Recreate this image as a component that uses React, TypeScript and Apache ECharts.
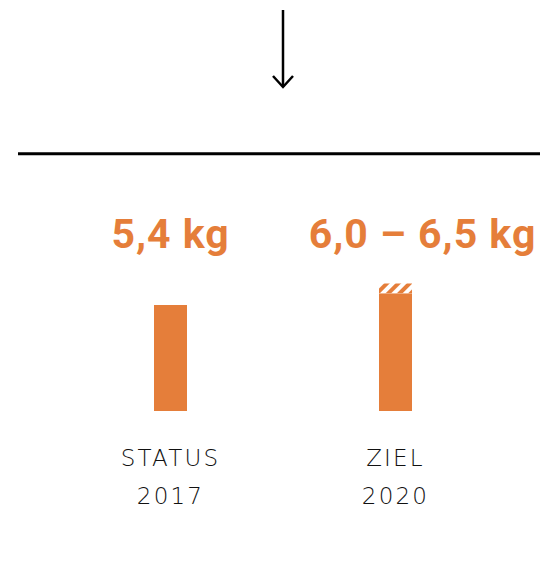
import React, { useEffect, useRef } from "react";
import * as echarts from "echarts";

const categories = ["STATUS\n2017", "ZIEL\n2020"];
const baseValues = [5.4, 6.0];
const rangeValues: (number | string)[] = ["-", 0.5];
const valueLabels = ["5,4 kg", "6,0 – 6,5 kg"];

const ORANGE = "#E57E3A";

export default function App() {
  const ref = useRef<HTMLDivElement>(null);
  useEffect(() => {
    document.body.style.margin = "0";
    const st = document.createElement("style");
    st.textContent =
      'text[style*="DejaVu"]{letter-spacing:2.2px;} text[style*="Roboto"]{letter-spacing:1px;}';
    document.head.appendChild(st);
    const chart = echarts.init(ref.current!, null, { renderer: "svg" });
    chart.setOption({
      animation: false,
      backgroundColor: "#ffffff",
      grid: { left: 58, right: 32, top: 254, bottom: 155 },
      xAxis: [
        {
          type: "category",
          data: categories,
          axisLine: { show: false },
          axisTick: { show: false },
          axisLabel: {
            margin: 28,
            color: "#111111",
            fontFamily: "DejaVu Sans",
            fontWeight: 300,
            fontSize: 23,
            lineHeight: 38,
          },
        },
        {
          type: "category",
          position: "top",
          data: valueLabels,
          axisLine: { show: false },
          axisTick: { show: false },
          axisLabel: {
            margin: 0,
            formatter: (v: string, i: number) => (i === 1 ? `{b|${v}}` : `{a|${v}}`),
            rich: {
              a: { color: ORANGE, fontFamily: "Roboto", fontWeight: 700, fontSize: 41 },
              b: {
                color: ORANGE,
                fontFamily: "Roboto",
                fontWeight: 700,
                fontSize: 41,
                padding: [0, 0, 0, 54],
              },
            },
          },
        },
      ],
      yAxis: {
        type: "value",
        min: 0,
        max: 8,
        show: false,
        splitLine: { show: false },
      },
      series: [
        {
          type: "bar",
          stack: "a",
          data: baseValues,
          barWidth: 33,
          itemStyle: { color: ORANGE },
        },
        {
          type: "bar",
          stack: "a",
          data: rangeValues,
          barWidth: 33,
          itemStyle: {
            color: "#ffffff",
            decal: {
              symbol: "rect",
              color: ORANGE,
              backgroundColor: "#ffffff",
              dashArrayX: [1, 0],
              dashArrayY: [4, 4],
              rotation: -Math.PI / 4,
              symbolSize: 1,
            },
          },
        },
      ],
      graphic: [
        {
          type: "line",
          shape: { x1: 18, y1: 153.8, x2: 540, y2: 153.8 },
          style: { stroke: "#000000", lineWidth: 3 },
        },
        {
          type: "line",
          shape: { x1: 283, y1: 10, x2: 283, y2: 87 },
          style: { stroke: "#000000", lineWidth: 2.5 },
        },
        {
          type: "polyline",
          shape: { points: [[273, 76], [283, 87], [293, 76]] },
          style: { stroke: "#000000", lineWidth: 2.5, fill: "none" },
        },
      ],
    });
    return () => {
      chart.dispose();
      st.remove();
    };
  }, []);
  return <div ref={ref} style={{ width: 540, height: 566 }} />;
}
